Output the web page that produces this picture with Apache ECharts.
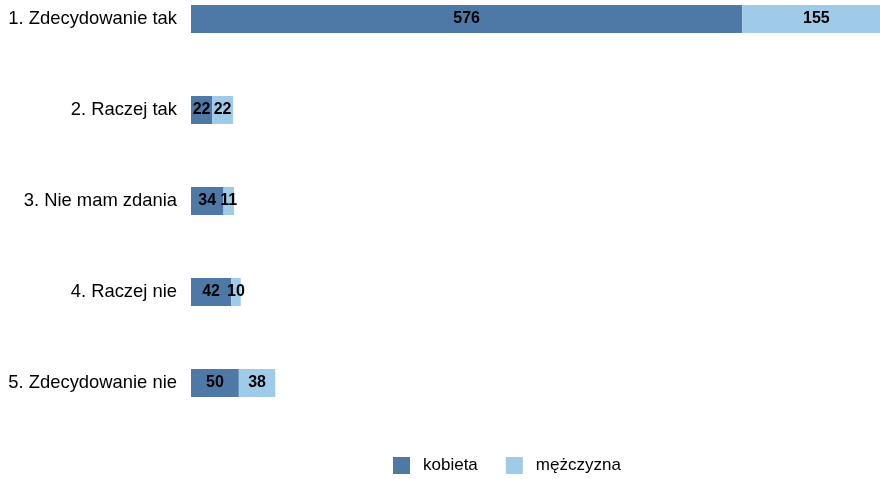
<!DOCTYPE html>
<html>
<head>
<meta charset="utf-8">
<script src="https://cdn.jsdelivr.net/npm/echarts@6/dist/echarts.min.js"></script>
<style>
  html, body { margin: 0; padding: 0; background: #ffffff; }
  #chart { width: 880px; height: 479px; }
</style>
</head>
<body>
<div id="chart"></div>
<script>
  var categories = ['1. Zdecydowanie tak', '2. Raczej tak', '3. Nie mam zdania', '4. Raczej nie', '5. Zdecydowanie nie'];
  var kobieta = [576, 22, 34, 42, 50];
  var mezczyzna = [155, 22, 11, 10, 38];
  var xMax = 720;

  var myChart = echarts.init(document.getElementById('chart'));

  var labelStyle = {
    show: true,
    position: 'inside',
    color: '#000000',
    fontFamily: 'Liberation Sans',
    fontSize: 16,
    fontWeight: 'bold'
  };

  myChart.setOption({
    animation: false,
    color: ['#4E79A7', '#A0CBE8'],
    textStyle: { fontFamily: 'Liberation Sans' },
    grid: {
      left: 191,
      right: 0,
      top: 19,
      bottom: 96,
      containLabel: false
    },
    legend: {
      left: 388,
      top: 452,
      itemWidth: 17,
      itemHeight: 17,
      itemGap: 28,
      icon: 'rect',
      textStyle: {
        fontFamily: 'Liberation Sans',
        fontSize: 17,
        color: '#000000',
        padding: [0, 0, 0, 8]
      },
      data: ['kobieta', 'mężczyzna']
    },
    xAxis: {
      type: 'value',
      min: 0,
      max: xMax,
      show: false
    },
    yAxis: {
      type: 'category',
      inverse: true,
      boundaryGap: false,
      data: categories,
      axisLine: { show: false },
      axisTick: { show: false },
      splitLine: { show: false },
      axisLabel: {
        margin: 14,
        fontFamily: 'Liberation Sans',
        fontSize: 18.4,
        color: '#000000'
      }
    },
    series: [
      {
        name: 'kobieta',
        type: 'bar',
        stack: 'total',
        barWidth: 28,
        clip: false,
        label: labelStyle,
        data: kobieta
      },
      {
        name: 'mężczyzna',
        type: 'bar',
        stack: 'total',
        barWidth: 28,
        clip: false,
        label: labelStyle,
        data: mezczyzna
      }
    ]
  });
</script>
</body>
</html>
